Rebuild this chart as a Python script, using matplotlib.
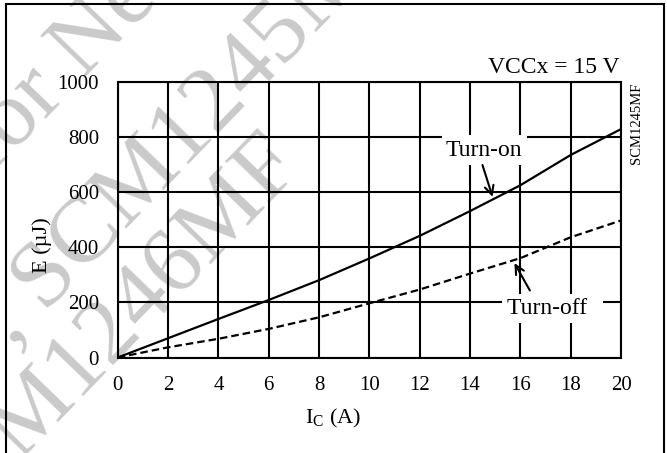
import matplotlib
matplotlib.use("Agg")
import matplotlib.pyplot as plt
from matplotlib.patches import Rectangle

plt.rcParams['font.family'] = ['Liberation Serif', 'DejaVu Serif']
plt.rcParams['mathtext.fontset'] = 'custom'
plt.rcParams['mathtext.rm'] = 'Liberation Serif'

# Data
ic = [0, 2, 4, 6, 8, 10, 12, 14, 16, 18, 20]
e_on = [0, 70, 140, 209, 281, 360, 442, 532, 626, 736, 830]
e_off = [0, 37, 68, 104, 146, 197, 247, 305, 361, 437, 498]
xticks = [0, 2, 4, 6, 8, 10, 12, 14, 16, 18, 20]
yticks = [0, 200, 400, 600, 800, 1000]

fig = plt.figure(figsize=(6.67, 4.53), dpi=100)
fig.patch.set_facecolor('white')

# watermark (behind the chart)
wm = dict(rotation=46, rotation_mode='anchor', ha='left', va='baseline',
          fontsize=68, color='#cacaca', zorder=-5)
fig.text(-535 / 667, 1 - 720 / 453, "Not Recommended for New Design", **wm)
fig.text(12 / 667, 1 - 347 / 453, ", SCM1245MF", **wm)
fig.text(-62 / 667, 1 - 540 / 453, "SCM1246MF", **wm)

ax = fig.add_axes([0.1765, 0.2108, 0.7546, 0.6075])
ax.patch.set_alpha(0)

ax.plot(ic, e_on, color='k', lw=1.6)
ax.plot(ic, e_off, color='k', lw=1.6, ls=(0, (3.4, 1.8)))

ax.set_xlim(0, 20)
ax.set_ylim(0, 1000)
ax.set_xticks(xticks)
ax.set_yticks(yticks)
ax.grid(True, color='k', lw=1.5)
ax.tick_params(length=0, labelsize=15, pad=13.5)
for s in ax.spines.values():
    s.set_linewidth(1.5)

ax.set_xlabel('I$_{\\mathrm{C}}$ (A)', fontsize=16)
ax.xaxis.set_label_coords(0.428, -0.18)
ax.set_ylabel('E (µJ)', fontsize=16)
ax.yaxis.set_label_coords(-0.1305, 0.409)

ax.text(0.996, 1.033, 'VCCx = 15 V', transform=ax.transAxes,
        ha='right', va='baseline', fontsize=17)
ax.text(1.03, 1.0, 'SCM1245MF', transform=ax.transAxes, rotation=90,
        ha='center', va='top', fontsize=10.5)

box = dict(facecolor='white', edgecolor='none', pad=3)
ax.text(14.56, 754, 'Turn-on', ha='center', va='center', fontsize=17, bbox=box)
ax.text(15.45, 178, 'Turn-off  ', ha='left', va='center', fontsize=17, bbox=box)
arrow = dict(arrowstyle='->', lw=1.5, color='k', mutation_scale=16)
ax.annotate('', xy=(14.93, 574), xytext=(14.46, 709), arrowprops=arrow)
ax.annotate('', xy=(15.71, 352), xytext=(16.43, 235), arrowprops=arrow)

fig.add_artist(Rectangle((6 / 667, -0.1), 658 / 667, 1.1 - 4 / 453,
                         transform=fig.transFigure, fill=False, lw=1.5,
                         edgecolor='k', clip_on=False))

fig.savefig('out.png', dpi=100)
